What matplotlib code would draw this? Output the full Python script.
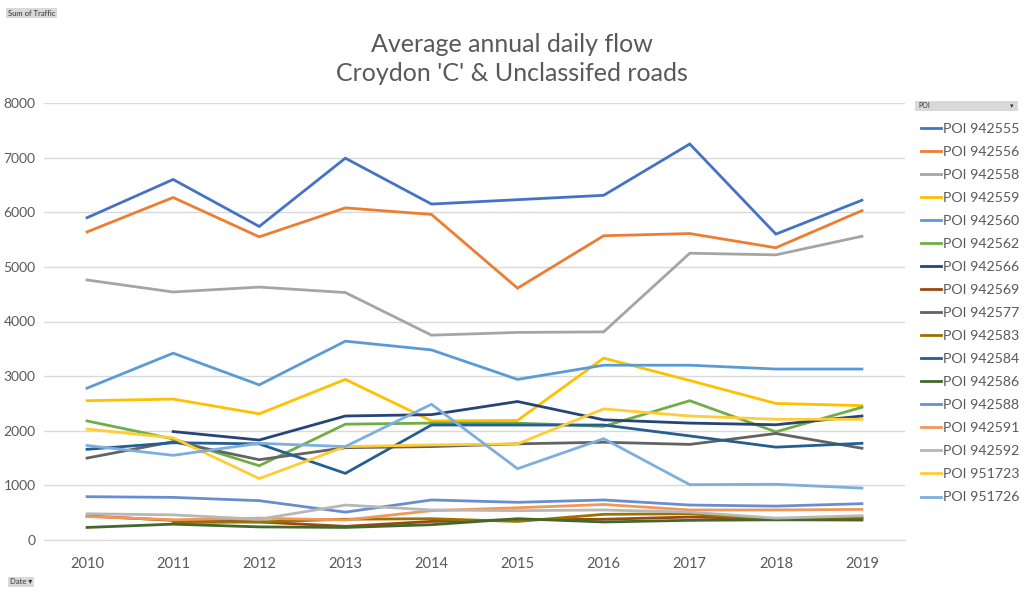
import numpy as np
import matplotlib
matplotlib.use("Agg")
from matplotlib import pyplot as plt

plt.rcParams['font.family'] = ['Lato', 'DejaVu Sans']

years = [2010, 2011, 2012, 2013, 2014, 2015, 2016, 2017, 2018, 2019]
nan = np.nan

poi_names = ['POI 942555', 'POI 942556', 'POI 942558', 'POI 942559', 'POI 942560',
             'POI 942562', 'POI 942566', 'POI 942569', 'POI 942577', 'POI 942583',
             'POI 942584', 'POI 942586', 'POI 942588', 'POI 942591', 'POI 942592',
             'POI 951723', 'POI 951726']

poi_942555 = [5900, 6600, 5740, 6990, 6150, 6230, 6310, 7250, 5600, 6220]
poi_942556 = [5640, 6270, 5550, 6080, 5960, 4610, 5570, 5610, 5350, 6030]
poi_942558 = [4760, 4540, 4630, 4530, 3750, 3800, 3810, 5250, 5220, 5560]
poi_942559 = [2550, 2580, 2310, 2940, 2180, 2190, 3330, 2920, 2500, 2460]
poi_942560 = [2780, 3420, 2840, 3640, 3480, 2940, 3200, 3200, 3130, 3130]
poi_942562 = [2180, 1850, 1360, 2120, 2140, 2140, 2080, 2550, 1980, 2430]
poi_942566 = [nan, 1985, 1830, 2270, 2295, 2535, 2200, 2140, 2110, 2270]
poi_942569 = [440, 360, 330, 250, 340, 370, 380, 420, 390, 400]
poi_942577 = [1500, 1800, 1470, 1690, 1710, 1760, 1790, 1750, 1950, 1680]
poi_942583 = [nan, 320, 330, 380, 390, 340, 470, 480, 370, 420]
poi_942584 = [1660, 1780, 1760, 1220, 2105, 2105, 2105, 1905, 1700, 1770]
poi_942586 = [230, 290, 240, 230, 280, 390, 330, 360, 370, 365]
poi_942588 = [793, 780, 720, 510, 733, 690, 733, 640, 620, 665]
poi_942591 = [430, 370, 400, 366, 537, 590, 650, 550, 550, 560]
poi_942592 = [480, 460, 380, 640, 550, 537, 550, 510, 400, 445]
poi_951723 = [2030, 1870, 1125, 1710, 1740, 1760, 2400, 2270, 2210, 2210]
poi_951726 = [1730, 1550, 1770, 1710, 2485, 1305, 1855, 1013, 1020, 950]

all_series = [poi_942555, poi_942556, poi_942558, poi_942559, poi_942560,
              poi_942562, poi_942566, poi_942569, poi_942577, poi_942583,
              poi_942584, poi_942586, poi_942588, poi_942591, poi_942592,
              poi_951723, poi_951726]

# excel default palette order
colours = ['#4472C4', '#ED7D31', '#A5A5A5', '#FFC000', '#5B9BD5', '#70AD47',
           '#264478', '#9E480E', '#636363', '#997300', '#255E91', '#43682B',
           '#698ED0', '#F1975A', '#B7B7B7', '#FFCD33', '#7CAFDD']

fig = plt.figure(figsize=(10.24, 5.94), dpi=100)
ax = fig.add_axes([44 / 1024, 54 / 594, (905 - 44) / 1024, (540 - 103) / 594])

x = np.arange(len(years))
for name, vals, col in zip(poi_names, all_series, colours):
    ax.plot(x, vals, color=col, lw=2, label=name, solid_joinstyle='miter')

ax.set_xlim(-0.5, len(years) - 0.5)
ax.set_ylim(0, 8000)
ax.set_yticks(range(0, 8001, 1000))
ax.set_xticks(x)
ax.set_xticklabels([str(y) for y in years])
ax.grid(axis='y', color='#D9D9D9', lw=1)
ax.set_axisbelow(True)
for s in ['top', 'right', 'left']:
    ax.spines[s].set_visible(False)
ax.spines['bottom'].set_color('#D9D9D9')
ax.tick_params(axis='both', length=0, colors='#595959', labelsize=10)
ax.tick_params(axis='x', pad=12, labelsize=10.5)
ax.tick_params(axis='y', pad=6)

fig.text(0.5, 1 - 59 / 594, "Average annual daily flow\nCroydon 'C' & Unclassifed roads",
         ha='center', va='center', fontsize=18, color='#595959', linespacing=1.3)

leg = fig.legend(loc='upper left', bbox_to_anchor=(915 / 1024, 1 - 117 / 594),
                 frameon=False, fontsize=10.2, handlelength=1.4, handletextpad=0.15,
                 labelspacing=0.78, borderaxespad=0)
for t in leg.get_texts():
    t.set_color('#595959')

# pivot chart field buttons
fig.text(8 / 1024, 1 - 13 / 594, 'Sum of Traffic', fontsize=5.5, color='#333333', va='center',
         bbox=dict(boxstyle='square,pad=0.25', fc='#D9D9D9', ec='none'))
fig.text(10 / 1024, 1 - 582 / 594, 'Date \u25be', fontsize=5.5, color='#333333', va='center',
         bbox=dict(boxstyle='square,pad=0.25', fc='#D9D9D9', ec='none'))
fig.patches.append(plt.Rectangle((915 / 1024, 1 - 111 / 594), 103 / 1024, 10 / 594,
                                 transform=fig.transFigure, fc='#D9D9D9', ec='none'))
fig.text(918 / 1024, 1 - 106 / 594, 'POI', fontsize=5, color='#333333', va='center')
fig.text(1013 / 1024, 1 - 106 / 594, '\u25be', fontsize=5, color='#333333', va='center', ha='right')

fig.savefig('out.png', dpi=100)
